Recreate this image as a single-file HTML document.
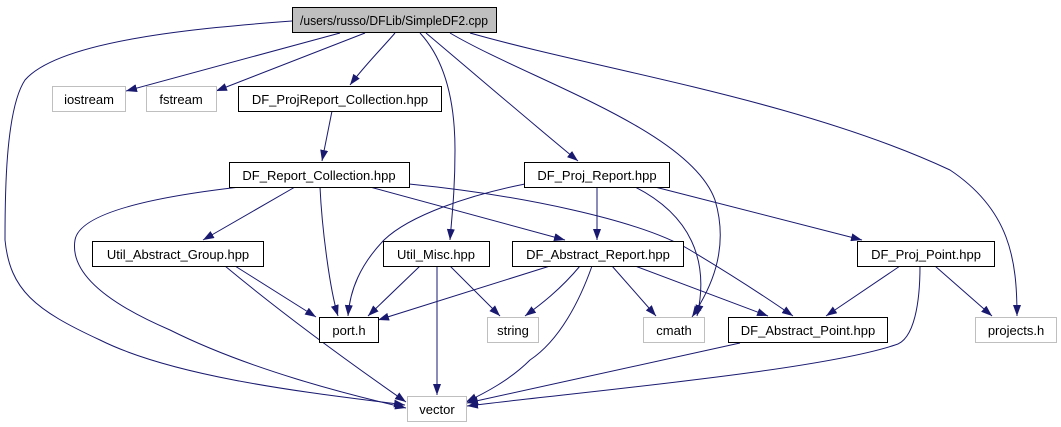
<!DOCTYPE html>
<html><head><meta charset="utf-8"><style>
html,body{margin:0;padding:0;background:#fff;width:1061px;height:427px;overflow:hidden}
svg{display:block}
text{font-family:"Liberation Sans",Arial,sans-serif;font-size:13px;fill:#000}
</style></head><body>
<svg width="1061" height="427" viewBox="0 0 1061 427" xmlns="http://www.w3.org/2000/svg">
<defs>
<marker id="a" markerUnits="userSpaceOnUse" markerWidth="11" markerHeight="8" refX="11" refY="4" orient="auto">
<path d="M0,0 L11,4 L0,8 z" fill="#191970"/>
</marker>
</defs>
<g fill="none" stroke="#191970" stroke-width="1" marker-end="url(#a)">
<path d="M292,21 C200,28 60,40 25,80 C5,110 5,200 5,240 C10,290 35,310 100,340 C180,380 330,395 405,405"/>
<path d="M340,33 L126,91"/>
<path d="M365,33 L216,91"/>
<path d="M395,33 C385,45 365,65 350,85"/>
<path d="M420,33 C445,60 455,100 455,150 C455,190 452,215 450,240"/>
<path d="M426,33 C470,70 540,130 578,161"/>
<path d="M450,33 C530,80 690,130 715,200 C730,250 710,290 692,317"/>
<path d="M470,33 C600,70 800,100 950,170 C1010,210 1017,260 1017,316"/>
<path d="M332,111 L322,161"/>
<path d="M240,187 C170,195 80,210 75,240 C70,270 100,300 170,330 C250,370 350,395 406,408"/>
<path d="M295,187 L203,240"/>
<path d="M320,187 C322,230 330,290 338,316"/>
<path d="M370,187 L565,240"/>
<path d="M409,184 C520,195 640,220 690,250 C740,280 770,300 793,316"/>
<path d="M525,184 C470,195 410,215 384,240 C360,265 350,290 348,316"/>
<path d="M597,187 L597,240"/>
<path d="M635,187 C690,215 710,260 697,316"/>
<path d="M655,187 L862,240"/>
<path d="M235,266 L316,317"/>
<path d="M225,266 C290,320 360,370 406,402"/>
<path d="M420,266 L368,316"/>
<path d="M437,266 L437,395"/>
<path d="M450,266 L500,316"/>
<path d="M550,266 L378,320"/>
<path d="M580,266 C560,290 540,305 525,316"/>
<path d="M592,266 C580,300 560,340 530,360 C510,380 485,393 466,402"/>
<path d="M612,266 L656,316"/>
<path d="M635,266 L768,316"/>
<path d="M900,266 L826,316"/>
<path d="M920,266 C920,300 915,340 895,345 C820,370 600,390 467,406"/>
<path d="M935,266 L992,316"/>
<path d="M740,343 L467,403"/>
</g>
<g stroke-width="1" shape-rendering="crispEdges">
<rect x="292.5" y="7.5" width="204" height="25" fill="#bfbfbf" stroke="#000"/>
<rect x="52.5" y="86.5" width="73" height="25" fill="#fff" stroke="#bfbfbf"/>
<rect x="146.5" y="86.5" width="70" height="25" fill="#fff" stroke="#bfbfbf"/>
<rect x="238.5" y="86.5" width="203" height="25" fill="#fff" stroke="#000"/>
<rect x="229.5" y="162.5" width="180" height="25" fill="#fff" stroke="#000"/>
<rect x="524.5" y="162.5" width="145" height="25" fill="#fff" stroke="#000"/>
<rect x="92.5" y="241.5" width="171" height="25" fill="#fff" stroke="#000"/>
<rect x="383.5" y="241.5" width="106" height="25" fill="#fff" stroke="#000"/>
<rect x="512.5" y="241.5" width="171" height="25" fill="#fff" stroke="#000"/>
<rect x="857.5" y="241.5" width="137" height="25" fill="#fff" stroke="#000"/>
<rect x="319.5" y="317.5" width="59" height="25" fill="#fff" stroke="#000"/>
<rect x="487.5" y="317.5" width="51" height="25" fill="#fff" stroke="#bfbfbf"/>
<rect x="643.5" y="317.5" width="61" height="25" fill="#fff" stroke="#bfbfbf"/>
<rect x="728.5" y="317.5" width="159" height="25" fill="#fff" stroke="#000"/>
<rect x="975.5" y="317.5" width="81" height="25" fill="#fff" stroke="#bfbfbf"/>
<rect x="407.5" y="396.5" width="59" height="25" fill="#fff" stroke="#bfbfbf"/>
</g>
<g text-anchor="middle">
<text x="394" y="25" textLength="188" lengthAdjust="spacingAndGlyphs">/users/russo/DFLib/SimpleDF2.cpp</text>
<text x="89" y="104">iostream</text>
<text x="181" y="104">fstream</text>
<text x="340" y="104">DF_ProjReport_Collection.hpp</text>
<text x="319" y="180">DF_Report_Collection.hpp</text>
<text x="597" y="180">DF_Proj_Report.hpp</text>
<text x="178" y="259">Util_Abstract_Group.hpp</text>
<text x="436" y="259">Util_Misc.hpp</text>
<text x="598" y="259">DF_Abstract_Report.hpp</text>
<text x="926" y="259">DF_Proj_Point.hpp</text>
<text x="349" y="335">port.h</text>
<text x="513" y="335">string</text>
<text x="674" y="335">cmath</text>
<text x="808" y="335">DF_Abstract_Point.hpp</text>
<text x="1016" y="335">projects.h</text>
<text x="437" y="414">vector</text>
</g>
</svg>
</body></html>
